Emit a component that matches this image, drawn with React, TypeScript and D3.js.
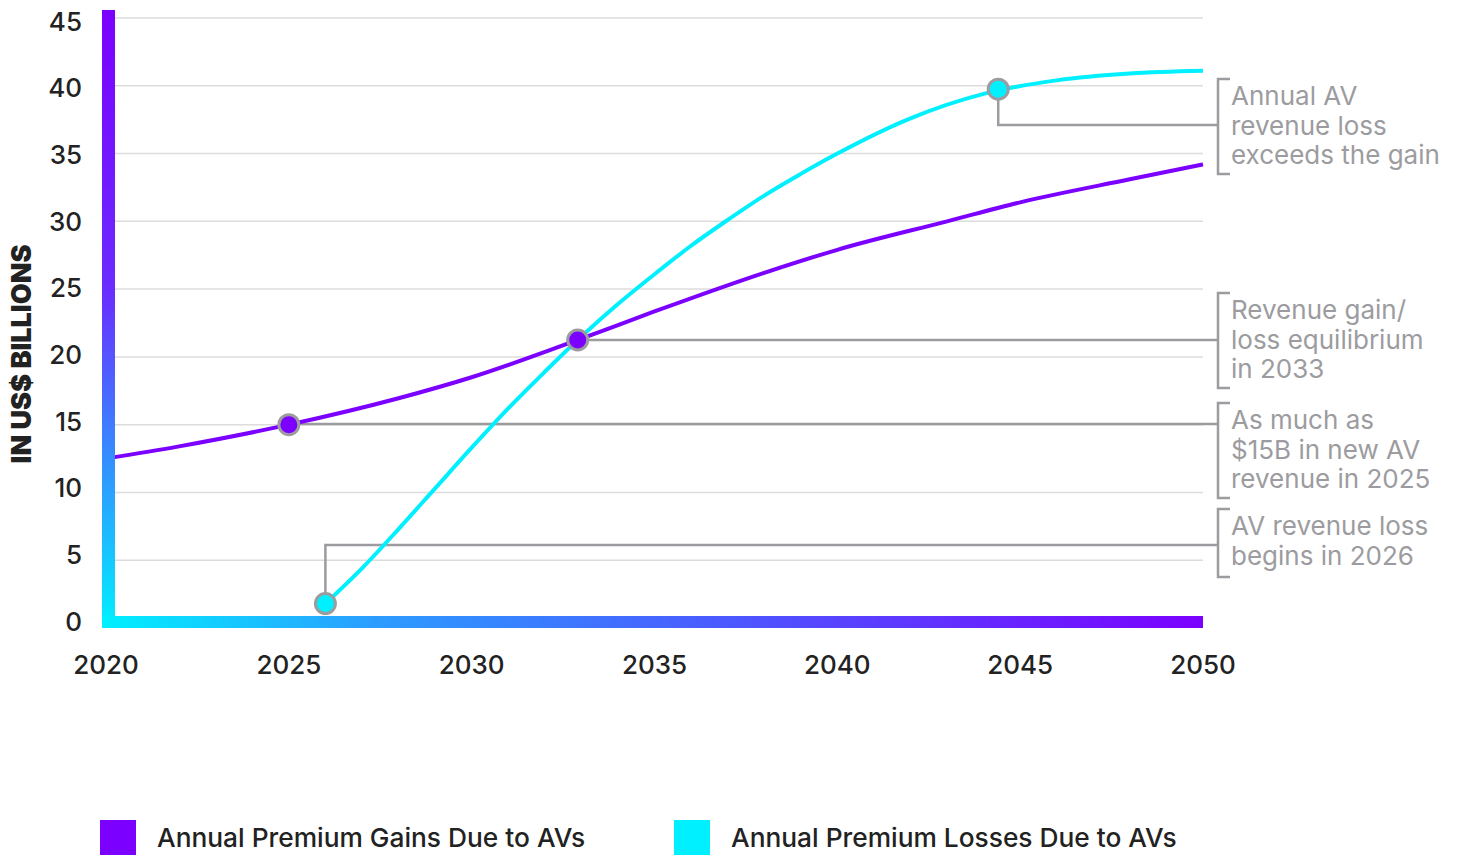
import React from "react";
import * as d3 from "d3";

// values (US$ billions)
const gainYears = [2020, 2022, 2025, 2028, 2030, 2033, 2035, 2038, 2040, 2043, 2045, 2048, 2050];
const gainValues = [12.5, 13.4, 15.0, 16.95, 18.5, 21.35, 23.35, 26.2, 27.9, 30.0, 31.4, 33.1, 34.2];

const lossYears = [
  2026, 2027, 2028, 2029, 2030, 2031, 2032, 2033, 2034, 2035, 2036, 2037, 2038, 2039, 2040, 2042, 2044,
  2046, 2048, 2050,
];
const lossValues = [
  1.8, 4.4, 7.3, 10.3, 13.3, 16.2, 18.9, 21.5, 23.9, 26.1, 28.2, 30.1, 31.9, 33.5, 35.0, 37.6, 39.4,
  40.4, 40.9, 41.1,
];

const yTicks = [0, 5, 10, 15, 20, 25, 30, 35, 40, 45];
const xTicks = [2020, 2025, 2030, 2035, 2040, 2045, 2050];

const markerYears = [2025, 2032.9, 2026, 2044.4];
const markerValues = [15, 21.25, 1.8, 39.75];
const markerSeries = ["gain", "gain", "loss", "loss"];

const noteLines = [
  ["Annual AV", "revenue loss", "exceeds the gain"],
  ["Revenue gain/", "loss equilibrium", "in 2033"],
  ["As much as", "$15B in new AV", "revenue in 2025"],
  ["AV revenue loss", "begins in 2026"],
];
// which marker each note points to
const noteMarker = [3, 1, 0, 2];

const legendLabels = ["Annual Premium Gains Due to AVs", "Annual Premium Losses Due to AVs"];

const PURPLE = "#7b00ff";
const CYAN = "#00f0ff";
const GREY = "#9c9ca0";
const FONT = "Inter, 'Noto Sans', sans-serif";

const x = d3.scaleLinear().domain([2020, 2050]).range([106, 1203]);
const y = d3.scaleLinear().domain([0, 45]).range([628, 18]);
const yLabel = d3.scaleLinear().domain([0, 45]).range([621.5, 21.3]);

const line = d3
  .line<[number, number]>()
  .x((d) => x(d[0]))
  .y((d) => y(d[1]))
  .curve(d3.curveMonotoneX);

// annotation layout: bracket top and connector y (px)
const bracketTop = [79, 293, 403, 509];
const connectorY = [125, 340, 424, 545];
const bracketX = 1218;

const App: React.FC = () => {
  const gains = gainYears.map((yr, i) => [yr, gainValues[i]] as [number, number]);
  const losses = lossYears.map((yr, i) => [yr, lossValues[i]] as [number, number]);
  const plotLeft = 115;
  const plotRight = x(2050);

  return (
    <svg
      width={1460}
      height={855}
      style={{ position: "absolute", left: 0, top: 0, background: "#fff" }}
      fontFamily={FONT}
    >
      <defs>
        <linearGradient id="ygrad" x1="0" y1="0" x2="0" y2="1">
          <stop offset="0" stopColor={PURPLE} />
          <stop offset="0.45" stopColor="#6a2cff" />
          <stop offset="1" stopColor={CYAN} />
        </linearGradient>
        <linearGradient id="xgrad" x1="0" y1="0" x2="1" y2="0">
          <stop offset="0" stopColor={CYAN} />
          <stop offset="0.25" stopColor="#2c9cff" />
          <stop offset="0.55" stopColor="#4a5cff" />
          <stop offset="1" stopColor={PURPLE} />
        </linearGradient>
      </defs>

      {/* gridlines */}
      {yTicks.slice(1).map((t) => (
        <line key={t} x1={plotLeft} x2={plotRight} y1={y(t)} y2={y(t)} stroke="#dcdcdc" strokeWidth={1.5} />
      ))}

      {/* y tick labels */}
      {yTicks.map((t) => (
        <text
          key={t}
          x={82}
          y={yLabel(t)}
          dy="0.36em"
          textAnchor="end"
          fontSize={26}
          fontWeight={500}
          fill="#222"
        >
          {t}
        </text>
      ))}

      {/* x tick labels */}
      {xTicks.map((t) => (
        <text key={t} x={x(t)} y={674} textAnchor="middle" fontSize={26} fontWeight={500} fill="#222">
          {t}
        </text>
      ))}

      <text
        transform={`translate(31,354) rotate(-90)`}
        textAnchor="middle"
        fontSize={27}
        fontWeight={900}
        fill="#222"
      >
        IN US$ BILLIONS
      </text>

      {/* connectors and brackets */}
      {noteLines.map((lines, i) => {
        const m = noteMarker[i];
        const mx = x(markerYears[m]);
        const my = y(markerValues[m]);
        const cy = connectorY[i];
        const top = bracketTop[i];
        const bottom = top + 14 + lines.length * 27;
        const path =
          Math.abs(cy - my) < 2
            ? `M${mx},${cy}H${bracketX}`
            : `M${mx},${my}V${cy}H${bracketX}`;
        return (
          <g key={i}>
            <path d={path} fill="none" stroke={GREY} strokeWidth={2.5} />
            <path
              d={`M${bracketX + 12},${top}H${bracketX}V${bottom}H${bracketX + 12}`}
              fill="none"
              stroke={GREY}
              strokeWidth={2.5}
            />
            {lines.map((s, j) => (
              <text
                key={j}
                x={1231}
                y={top + 17 + j * 29.3}
                dy="0.36em"
                fontSize={26}
                fill={GREY}
              >
                {s}
              </text>
            ))}
          </g>
        );
      })}

      {/* series */}
      <path d={line(gains) ?? ""} fill="none" stroke={PURPLE} strokeWidth={4} />
      <path d={line(losses) ?? ""} fill="none" stroke={CYAN} strokeWidth={4} />

      {/* axis bars */}
      <rect x={102} y={10} width={13} height={y(0) - 10} fill="url(#ygrad)" />
      <rect x={102} y={y(0) - 12} width={plotRight - 102} height={12} fill="url(#xgrad)" />

      {/* markers */}
      {markerYears.map((yr, i) => (
        <circle
          key={i}
          cx={x(yr)}
          cy={y(markerValues[i])}
          r={10}
          fill={markerSeries[i] === "gain" ? PURPLE : CYAN}
          stroke={GREY}
          strokeWidth={3}
        />
      ))}

      {/* legend */}
      {legendLabels.map((s, i) => {
        const lx = i === 0 ? 100 : 674;
        return (
          <g key={s}>
            <rect x={lx} y={820} width={36} height={36} fill={i === 0 ? PURPLE : CYAN} />
            <text x={lx + 57} y={847} fontSize={26.3} fontWeight={500} fill="#222">
              {s}
            </text>
          </g>
        );
      })}
    </svg>
  );
};

export default App;
